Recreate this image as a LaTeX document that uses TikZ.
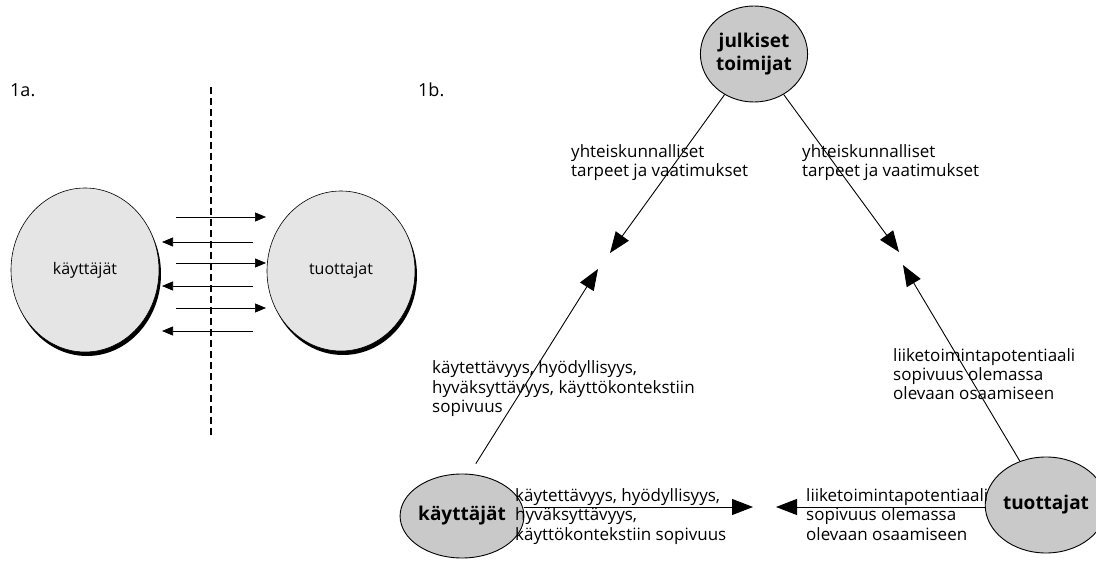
\documentclass[tikz,border=0pt]{standalone}
\usepackage{fontspec}
\setmainfont{Open Sans}
\usetikzlibrary{shapes.geometric, arrows.meta}

\begin{document}
\begin{tikzpicture}[x = 1pt, y = -1pt]
\tikzstyle{BigShadow}=[shape = ellipse, fill = black, inner sep = 0pt]
\tikzstyle{BigCircle}=[shape = ellipse, draw, fill = gray!20,
                       line width = 0.6pt, inner sep = 0pt,
                       font = \fontsize{16}{19}\selectfont]
\tikzstyle{SmallCircle}=[shape = ellipse, draw, fill = gray!42,
                         line width = 0.9pt, inner sep = 0pt, align = center,
                         font = \fontsize{19}{23}\selectfont\bfseries]
\tikzstyle{Flow}=[line width = 0.7pt, -{Triangle[length = 11pt, width = 9pt]}]
\tikzstyle{Link}=[line width = 0.9pt, -{Triangle[length = 21pt, width = 16pt]}]
% base = baseline of the last line
\tikzstyle{Label}=[anchor = base west, inner sep = 0pt, align = left,
                   font = \fontsize{17}{19.5}\selectfont]

\useasboundingbox (0,0) rectangle (1096,577);

% 1a.
\node[Label, font = \fontsize{18}{20}\selectfont] (numA) at (10, 97) {1a.};
\node[BigShadow, minimum width = 148pt, minimum height = 164pt] (klShadow) at (87, 274) {};
\node[BigShadow, minimum width = 148pt, minimum height = 160pt] (tlShadow) at (343, 275) {};
\node[BigCircle, minimum width = 148pt, minimum height = 164pt] (kl) at (85, 270) {käyttäjät};
\node[BigCircle, minimum width = 148pt, minimum height = 160pt] (tl) at (341, 271) {tuottajat};
\foreach \i/\yy in {1/217, 2/263, 3/308} {
  \coordinate (ra\i) at (176, \yy);
  \coordinate (rb\i) at (266, \yy);
  \draw[Flow] (ra\i) -- (rb\i);
}
\foreach \i/\yy in {1/242, 2/286, 3/331} {
  \coordinate (la\i) at (253, \yy);
  \coordinate (lb\i) at (162, \yy);
  \draw[Flow] (la\i) -- (lb\i);
}
\coordinate (dtop) at (211, 87);
\coordinate (dbot) at (211, 435);
\draw[line width = 1.8pt, dash pattern = on 7pt off 4pt] (dtop) -- (dbot);

% 1b.
\node[Label, font = \fontsize{18}{20}\selectfont] (numB) at (418, 97) {1b.};
\node[SmallCircle, minimum width = 104pt, minimum height = 96pt] (jt) at (754, 54) {julkiset\\toimijat};
\node[SmallCircle, minimum width = 96pt, minimum height = 84pt] (kr) at (462, 516) {käyttäjät};
\node[SmallCircle, minimum width = 98pt, minimum height = 96pt] (tr) at (1046, 505) {tuottajat};

\coordinate (tipJK) at (610, 253);
\coordinate (tipJT) at (899, 252);
\coordinate (tipKJ) at (598, 269);
\coordinate (tipTJ) at (903, 265);
\coordinate (tipKT) at (753, 507);
\coordinate (tipTK) at (776, 507);

\draw[Link] (jt) -- (tipJK);
\draw[Link] (jt) -- (tipJT);
\draw[Link, shorten <= 12pt] (kr.80) -- (tipKJ);
\draw[Link] (tr) -- (tipTJ);
\draw[Link] (kr.east |- tipKT) -- (tipKT);
\draw[Link] (tr.west |- tipTK) -- (tipTK);

\node[Label] (needsL) at (571, 177) {yhteiskunnalliset\\tarpeet ja vaatimukset};
\node[Label] (needsR) at (802, 177) {yhteiskunnalliset\\tarpeet ja vaatimukset};
\node[Label] (usersUp) at (432, 413) {käytettävyys, hyödyllisyys,\\hyväksyttävyys, käyttökontekstiin\\sopivuus};
\node[Label] (prodUp) at (893, 400) {liiketoimintapotentiaali\\sopivuus olemassa\\olevaan osaamiseen};
\node[Label] (usersLow) at (515, 540) {käytettävyys, hyödyllisyys,\\hyväksyttävyys,\\käyttökontekstiin sopivuus};
\node[Label] (prodLow) at (806, 540) {liiketoimintapotentiaali\\sopivuus olemassa\\olevaan osaamiseen};
\end{tikzpicture}
\end{document}
